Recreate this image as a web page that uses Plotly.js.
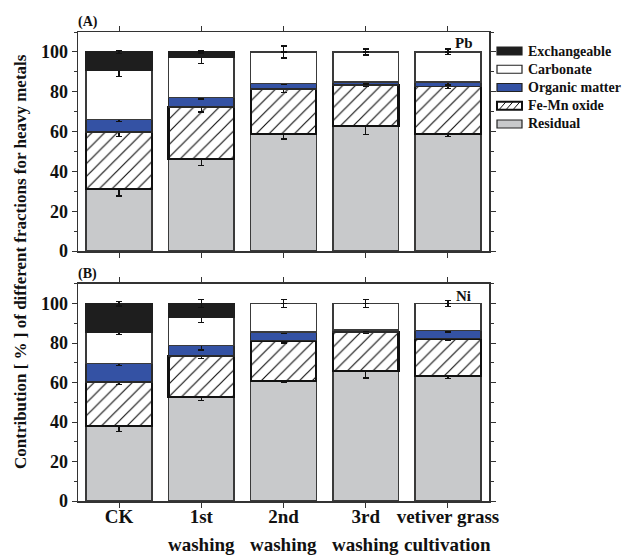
<!DOCTYPE html>
<html>
<head>
<meta charset="utf-8">
<script src="https://cdn.plot.ly/plotly-3.0.1.min.js"></script>
<style>html,body{margin:0;padding:0;background:#fff;}#chart{width:625px;height:557px;}</style>
</head>
<body>
<div id="chart"></div>
<script>
// ---- data ----
const categories = ['CK', '1st', '2nd', '3rd', 'vetiver grass'];
const tickLine1 = ['CK', '1st', '2nd', '3rd', 'vetiver grass'];
const tickLine2 = ['', 'washing', 'washing', 'washing', 'cultivation'];
const fractionNames = ['Residual', 'Fe-Mn oxide', 'Organic matter', 'Carbonate', 'Exchangeable'];

// Pb (panel A) – percentage of each fraction
const pbResidual     = [31.0, 46.4, 58.8, 62.9, 58.8];
const pbFeMn         = [28.8, 25.9, 22.7, 20.5, 23.9];
const pbOrganic      = [6.2, 4.7, 2.7, 1.5, 2.2];
const pbCarbonate    = [24.6, 20.1, 15.8, 15.1, 15.1];
const pbExchangeable = [9.4, 2.9, 0, 0, 0];
// Pb error bars
const pbResidualErr     = [3.3, 3.3, 2.5, 4.5, 1.3];
const pbFeMnErr         = [2.3, 2.5, 2.0, 0.8, 1.2];
const pbOrganicErr      = [1.0, 0.7, 0.7, 1.0, 1.5];
const pbCarbonateErr    = [3.0, 3.0, 3.0, 1.5, 1.4];
const pbExchangeableErr = [0.7, 0.5, null, null, null];

// Ni (panel B)
const niResidual     = [38.1, 52.6, 60.9, 66.0, 63.5];
const niFeMn         = [22.3, 21.0, 20.5, 19.6, 18.9];
const niOrganic      = [9.3, 5.2, 4.2, 1.0, 4.1];
const niCarbonate    = [15.6, 14.3, 14.4, 13.4, 13.5];
const niExchangeable = [14.7, 6.9, 0, 0, 0];
// Ni error bars
const niResidualErr     = [2.7, 1.7, 0.8, 3.7, 1.3];
const niFeMnErr         = [1.5, 1.5, 1.3, 0.7, 1.2];
const niOrganicErr      = [1.0, 2.3, 0.7, 0.7, 0.8];
const niCarbonateErr    = [1.0, 2.5, 2.0, 2.0, 1.5];
const niExchangeableErr = [1.2, 2.0, null, null, null];

// ---- styles ----
const FONT = 'Liberation Serif, Times New Roman, serif';
const fills = ['#c8c9cb', '#ffffff', '#3452a4', '#ffffff', '#1e1e1e'];
const edgeColors = ['#3a3a3a', '#111111', '#2a2a2a', '#3a3a3a', '#1e1e1e'];
const edgeWidths = [1.5, 2.2, 1.5, 1.5, 1.5];

function makeTraces(series, errors, xa, ya) {
  return series.map((vals, i) => ({
    type: 'bar',
    x: categories,
    y: vals,
    name: fractionNames[i],
    xaxis: xa, yaxis: ya,
    showlegend: false,
    marker: Object.assign({
      color: fills[i],
      line: {color: edgeColors[i], width: vals.map(v => v > 0 ? edgeWidths[i] : 0)}
    }, i === 1 ? {pattern: {shape: '/', fgcolor: '#111111', bgcolor: '#ffffff', size: 9, solidity: 0.13}} : {}),
    error_y: {type: 'data', array: errors[i], visible: true, color: '#111', thickness: 1.3, width: 3},
    hoverinfo: 'skip'
  }));
}

const traces = [].concat(
  makeTraces([pbResidual, pbFeMn, pbOrganic, pbCarbonate, pbExchangeable],
             [pbResidualErr, pbFeMnErr, pbOrganicErr, pbCarbonateErr, pbExchangeableErr], 'x', 'y'),
  makeTraces([niResidual, niFeMn, niOrganic, niCarbonate, niExchangeable],
             [niResidualErr, niFeMnErr, niOrganicErr, niCarbonateErr, niExchangeableErr], 'x2', 'y2')
);

const xCommon = {
  type: 'category', range: [-0.5, 4.5], showline: true, linecolor: '#333', linewidth: 1.5,
  mirror: 'ticks', ticks: 'outside', ticklen: 5, tickwidth: 1, tickcolor: '#333',
  showgrid: false, zeroline: false, automargin: false,
  tickmode: 'array', tickvals: categories, ticklabelstandoff: -7,
  tickfont: {family: FONT, size: 19, color: '#111', weight: 'bold'}
};
const yCommon = {
  range: [0, 110], showline: true, linecolor: '#333', linewidth: 1.5, mirror: 'ticks',
  ticks: 'outside', ticklen: 5, tickwidth: 1, tickcolor: '#333', dtick: 20, tick0: 0,
  minor: {dtick: 10, ticks: 'outside', ticklen: 3, tickcolor: '#333', showgrid: false},
  showgrid: false, zeroline: false, automargin: false,
  tickfont: {family: FONT, size: 18, color: '#111', weight: 'bold'}
};

// pixel -> paper helpers (plot area: x 78..489, y 32..501)
const px = x => (x - 78) / 411;
const py = y => (501 - y) / 469;

const annotations = [
  {text: '(A)', x: px(76), y: py(22), xanchor: 'left'},
  {text: '(B)', x: px(76), y: py(274), xanchor: 'left'}
].map(a => Object.assign(a, {xref: 'paper', yref: 'paper', yanchor: 'middle', showarrow: false,
  font: {family: FONT, size: 14, color: '#111', weight: 'bold'}}));

annotations.push(
  {text: 'Pb', xref: 'paper', yref: 'paper', x: px(464), y: py(43),
   xanchor: 'center', yanchor: 'middle', showarrow: false,
   font: {family: FONT, size: 15, color: '#111', weight: 'bold'}},
  {text: 'Ni', xref: 'paper', yref: 'paper', x: px(463), y: py(296),
   xanchor: 'center', yanchor: 'middle', showarrow: false,
   font: {family: FONT, size: 15, color: '#111', weight: 'bold'}},
  {text: 'Contribution [ % ] of different fractions for heavy metals', xref: 'paper', yref: 'paper',
   x: px(20), y: py(262), xanchor: 'center', yanchor: 'middle', textangle: -90,
   showarrow: false, font: {family: FONT, size: 17, color: '#111', weight: 'bold'}}
);
// second line of category labels
categories.forEach((c, i) => {
  if (tickLine2[i]) annotations.push({
    text: tickLine2[i], xref: 'x2', yref: 'paper', x: c, y: py(556), borderpad: 0,
    xanchor: 'center', yanchor: 'bottom', showarrow: false,
    font: {family: FONT, size: 19, color: '#111', weight: 'bold'}
  });
});

// custom legend (top to bottom: Exchangeable ... Residual)
const shapes = [];
const legendOrder = [4, 3, 2, 1, 0];
legendOrder.forEach((k, row) => {
  const cy = 51 + row * 18.25;
  const x0 = 497, x1 = 522, y0 = cy - 4, y1 = cy + 4;
  shapes.push({type: 'rect', xref: 'paper', yref: 'paper', x0: px(x0), x1: px(x1), y0: py(y1), y1: py(y0),
    fillcolor: fills[k], line: {color: k === 1 ? '#111' : '#222', width: k === 1 ? 2 : 1.2}});
  if (k === 1) {
    [2, 9, 16].forEach(off => shapes.push({type: 'line', xref: 'paper', yref: 'paper',
      x0: px(x0 + off), y0: py(y1), x1: px(x0 + off + 7), y1: py(y0), line: {color: '#111', width: 1}}));
  }
  annotations.push({text: fractionNames[k], xref: 'paper', yref: 'paper', x: px(526), y: py(cy),
    xanchor: 'left', yanchor: 'middle', showarrow: false,
    font: {family: FONT, size: 14, color: '#111', weight: 'bold'}});
});

const layout = {
  width: 625, height: 557,
  margin: {l: 78, r: 136, t: 32, b: 56},
  paper_bgcolor: '#fff', plot_bgcolor: '#fff',
  barmode: 'stack', bargap: 0.2,
  xaxis: Object.assign({}, xCommon, {anchor: 'y', showticklabels: false}),
  yaxis: Object.assign({}, yCommon, {domain: [0.533, 1], anchor: 'x'}),
  xaxis2: Object.assign({}, xCommon, {anchor: 'y2', ticktext: tickLine1}),
  yaxis2: Object.assign({}, yCommon, {domain: [0, 0.4627], anchor: 'x2'}),
  annotations: annotations,
  shapes: shapes,
  showlegend: false
};

Plotly.newPlot('chart', traces, layout, {staticPlot: true, displayModeBar: false});
</script>
</body>
</html>
